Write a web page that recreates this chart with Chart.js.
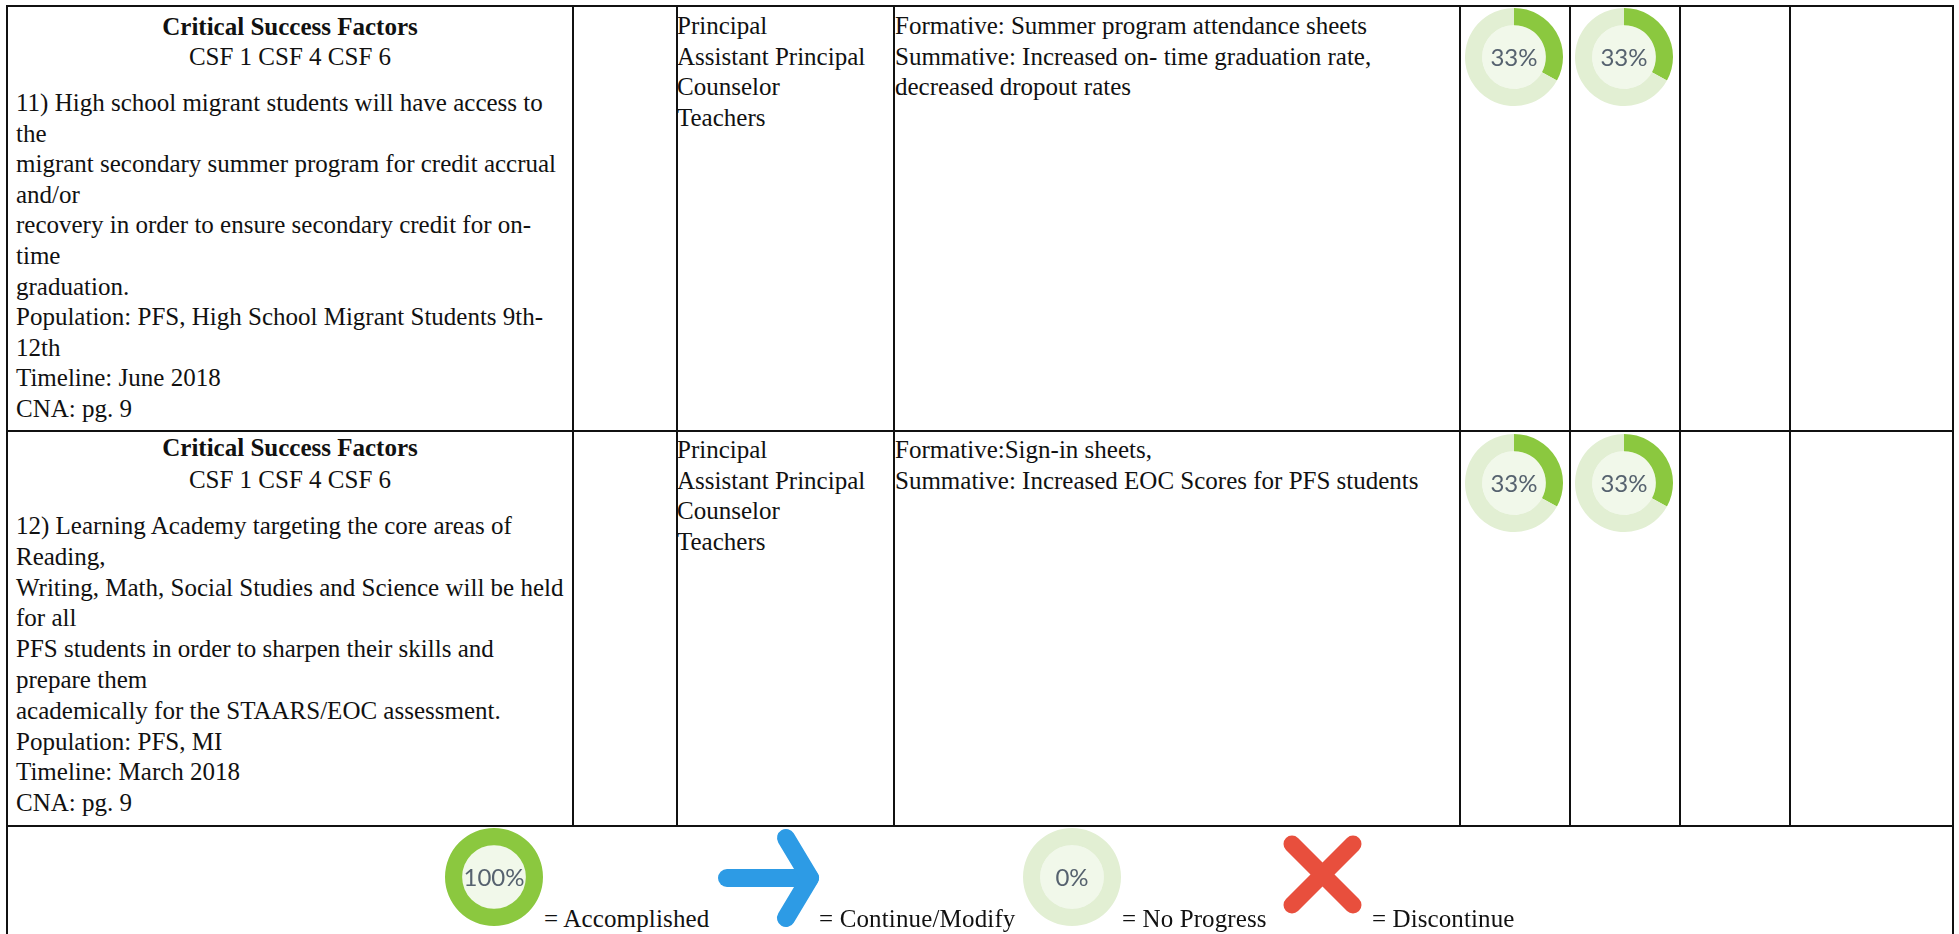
<!DOCTYPE html>
<html>
<head>
<meta charset="utf-8">
<title>Critical Success Factors</title>
<script src="https://cdn.jsdelivr.net/npm/chart.js@4"></script>
<style>
    html, body { margin: 0; padding: 0; background: #fff; overflow: hidden; }
    #page { position: relative; width: 1959px; height: 934px; font-family: "Liberation Serif", serif; font-size: 25px; color: #111; }
    .rule { position: absolute; background: #111; }
    .block { position: absolute; white-space: pre; line-height: 30.5px; }
    .center { text-align: center; }
    .donut { position: absolute; width: 98px; height: 98px; }
    .donut canvas { position: absolute; left: 0; top: 0; }
    .pct { position: absolute; left: 0; top: 0; width: 98px; line-height: 98px; text-align: center; font-family: Lato, sans-serif; font-size: 24px; color: #56626f; }
    svg { position: absolute; }
</style>
</head>
<body>
<div id="page"></div>
<script>
const progressLabels = ['done', 'left'];
const row1Progress = [33, 33];
const row2Progress = [33, 33];
const legendProgress = [100, 0];

const row1Factors = ['CSF 1 CSF 4 CSF 6'];
const row1Strategy = [
    '11) High school migrant students will have access to',
    'the',
    'migrant secondary summer program for credit accrual',
    'and/or',
    'recovery in order to ensure secondary credit for on-',
    'time',
    'graduation.',
    'Population: PFS, High School Migrant Students 9th-',
    '12th',
    'Timeline: June 2018',
    'CNA: pg. 9'
];
const row2Strategy = [
    '12) Learning Academy targeting the core areas of',
    'Reading,',
    'Writing, Math, Social Studies and Science will be held',
    'for all',
    'PFS students in order to sharpen their skills and',
    'prepare them',
    'academically for the STAARS/EOC assessment.',
    'Population: PFS, MI',
    'Timeline: March 2018',
    'CNA: pg. 9'
];
const staff = ['Principal', 'Assistant Principal', 'Counselor', 'Teachers'];
const row1Evidence = [
    'Formative: Summer program attendance sheets',
    'Summative: Increased on- time graduation rate,',
    'decreased dropout rates'
];
const row2Evidence = [
    'Formative:Sign-in sheets,',
    'Summative: Increased EOC Scores for PFS students'
];

const page = document.getElementById('page');

function rule(x, y, w, h) {
    const d = document.createElement('div');
    d.className = 'rule';
    d.style.cssText = `left:${x}px;top:${y}px;width:${w}px;height:${h}px`;
    page.appendChild(d);
}

function block(lines, x, y, opts = {}) {
    const d = document.createElement('div');
    d.className = 'block' + (opts.center ? ' center' : '');
    d.style.left = x + 'px';
    d.style.top = y + 'px';
    if (opts.width) d.style.width = opts.width + 'px';
    if (opts.bold) d.style.fontWeight = 'bold';
    if (opts.lineHeight) d.style.lineHeight = opts.lineHeight + 'px';
    if (opts.spacing) d.style.letterSpacing = opts.spacing + 'px';
    d.textContent = lines.join('\n');
    page.appendChild(d);
}

// inner disc of the ring, sized from the arc itself
const innerDisc = {
    id: 'innerDisc',
    beforeDatasetsDraw(chart) {
        const arc = chart.getDatasetMeta(0).data[0];
        chart.ctx.save();
        chart.ctx.fillStyle = '#f1f8ea';
        chart.ctx.beginPath();
        chart.ctx.arc(arc.x, arc.y, arc.innerRadius, 0, Math.PI * 2);
        chart.ctx.fill();
        chart.ctx.restore();
    }
};

function donut(value, cx, cy) {
    const wrap = document.createElement('div');
    wrap.className = 'donut';
    wrap.style.left = (cx - 49) + 'px';
    wrap.style.top = (cy - 49) + 'px';
    const canvas = document.createElement('canvas');
    canvas.width = 98;
    canvas.height = 98;
    wrap.appendChild(canvas);
    const label = document.createElement('div');
    label.className = 'pct';
    label.textContent = value + '%';
    wrap.appendChild(label);
    page.appendChild(wrap);
    new Chart(canvas.getContext('2d'), {
        type: 'doughnut',
        data: {
            labels: progressLabels,
            datasets: [{
                data: [value, 100 - value],
                backgroundColor: ['#8bc83f', '#e2efd3'],
                borderWidth: 0
            }]
        },
        options: {
            responsive: false,
            animation: false,
            cutout: '65%',
            plugins: { legend: { display: false }, tooltip: { enabled: false } }
        },
        plugins: [innerDisc]
    });
}

// table rules
rule(6, 5, 1948, 2);
rule(6, 430, 1948, 2);
rule(6, 825, 1948, 2);
[6, 572, 676, 893, 1459, 1569, 1679, 1789, 1952].forEach(x => rule(x, 5, 2, 822));
rule(6, 825, 2, 109);
rule(1952, 825, 2, 109);

// row 1
block(['Critical Success Factors'], 8, 12, { center: true, bold: true, width: 564 });
block(row1Factors, 8, 42, { center: true, width: 564 });
block(row1Strategy, 16, 88, { lineHeight: 30.6 });
block(staff, 677, 11);
block(row1Evidence, 895, 11);

// row 2
block(['Critical Success Factors'], 8, 433, { center: true, bold: true, width: 564 });
block(row1Factors, 8, 465, { center: true, width: 564 });
block(row2Strategy, 16, 511, { lineHeight: 30.8 });
block(staff, 677, 435);
block(row2Evidence, 895, 435);

row1Progress.forEach((v, i) => donut(v, [1514, 1624][i], 57));
row2Progress.forEach((v, i) => donut(v, [1514, 1624][i], 483));

// legend
donut(legendProgress[0], 494, 877);
donut(legendProgress[1], 1072, 877);
block(['= Accomplished'], 544, 904, { spacing: 0.15 });
block(['= Continue/Modify'], 819, 904, { spacing: 0.15 });
block(['= No Progress'], 1122, 904, { spacing: 0.1 });
block(['= Discontinue'], 1372, 904, { spacing: 0.1 });

page.insertAdjacentHTML('beforeend', `
<svg style="left:710px;top:820px" width="120" height="114" viewBox="710 820 120 114">
  <g fill="none" stroke="#2d9be5" stroke-width="18" stroke-linecap="round" stroke-linejoin="round">
    <path d="M727 878 H810"/>
    <path d="M786 838 L810 878 L786 918"/>
  </g>
</svg>
<svg style="left:1275px;top:828px" width="95" height="95" viewBox="1275 828 95 95">
  <g stroke="#e84f3d" stroke-width="17" stroke-linecap="round">
    <path d="M1292 844 L1353 905"/>
    <path d="M1353 844 L1292 905"/>
  </g>
</svg>`);
</script>
</body>
</html>
